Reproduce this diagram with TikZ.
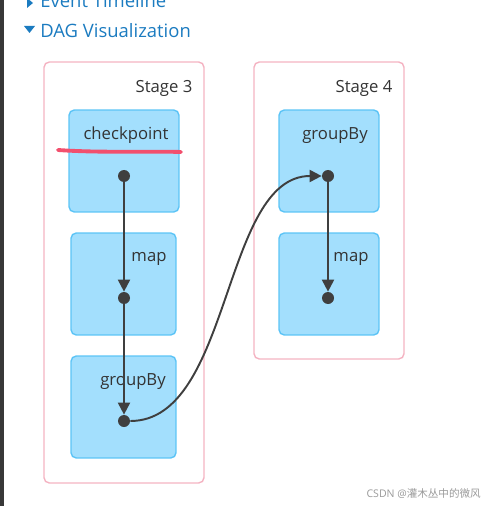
\documentclass[tikz,border=0pt]{standalone}
\usepackage{fontspec}
\setmainfont{Open Sans}
\newfontfamily\cjkfont{Noto Sans CJK SC}
\usetikzlibrary{arrows.meta}

\definecolor{linkblue}{HTML}{1B7BC0}
\definecolor{stagepink}{HTML}{F4B3C2}
\definecolor{opfill}{HTML}{A3DFFD}
\definecolor{opline}{HTML}{5CC4F6}
\definecolor{edgegray}{HTML}{3F3F3F}
\definecolor{markred}{HTML}{F2506E}

\tikzstyle{stagebox}=[draw=stagepink, line width=0.8pt, rounded corners=3pt, inner sep=0pt]
\tikzstyle{opbox}=[draw=opline, fill=opfill, line width=0.8pt, rounded corners=3pt, inner sep=0pt, minimum height=2.04cm]
\tikzstyle{oplabel}=[font=\fontsize{9.5}{11}\selectfont, text=black!80, inner sep=0pt]
\tikzstyle{opdot}=[circle, fill=edgegray, inner sep=0pt, minimum size=0.24cm]
\tikzstyle{dagedge}=[draw=edgegray, line width=1.1pt, -{Triangle[length=0.24cm,width=0.24cm]}]

\begin{document}
\begin{tikzpicture}[x=0.02cm, y=-0.02cm]
  \useasboundingbox (0,0) rectangle (485,506);
  % page side bar
  \fill[black!78] (0,0) rectangle (4,506);
  % section headers
  \fill[linkblue] (27,-2) -- (33,3) -- (27,8) -- cycle;
  \node[anchor=west, text=linkblue, font=\fontsize{10.5}{12}\selectfont, inner sep=0pt] (timeline) at (40,1) {Event Timeline};
  \fill[linkblue] (24,26) -- (35,26) -- (29.5,33) -- cycle;
  \node[anchor=west, text=linkblue, font=\fontsize{10.5}{12}\selectfont, inner sep=0pt] (dagviz) at (40,31) {DAG Visualization};

  % stages
  \node[stagebox, minimum width=3.2cm, minimum height=8.42cm] (stage3) at (124,272.5) {};
  \node[stagebox, minimum width=3.0cm, minimum height=5.94cm] (stage4) at (329,210.5) {};
  \node[oplabel] (stage3lbl) at (164,88) {Stage 3};
  \node[oplabel] (stage4lbl) at (364,88) {Stage 4};

  % operators
  \node[opbox, minimum width=2.2cm] (checkpoint) at (124,161) {};
  \node[opbox, minimum width=2.1cm] (map3) at (123.5,284) {};
  \node[opbox, minimum width=2.1cm] (groupby3) at (123.5,407) {};
  \node[opbox, minimum width=2.0cm] (groupby4) at (329,161) {};
  \node[opbox, minimum width=2.0cm] (map4) at (329,284) {};

  \node[oplabel] (checkpointlbl) at (126,135) {checkpoint};
  \node[oplabel] (map3lbl) at (149,259) {map};
  \node[oplabel] (groupby3lbl) at (133,382) {groupBy};
  \node[oplabel] (groupby4lbl) at (335,136) {groupBy};
  \node[oplabel] (map4lbl) at (351,259) {map};

  % red mark under checkpoint
  \draw[markred, line width=2.2pt, line cap=round] (58,150) .. controls (100,153) and (150,151) .. (181,152);

  % dots
  \node[opdot] (d1) at (124,176) {};
  \node[opdot] (d2) at (124,298) {};
  \node[opdot] (d3) at (124,421) {};
  \node[opdot] (d4) at (328,176) {};
  \node[opdot] (d5) at (328,298) {};

  % edges
  \draw[dagedge] (d1) -- (d2);
  \draw[dagedge] (d2) -- (d3);
  \draw[dagedge] (d3.east) .. controls (232,421) and (222,176) .. (d4.west);
  \draw[dagedge] (d4) -- (d5);

  % watermark
  \node[anchor=east, text=black!40, font=\fontsize{6}{7}\selectfont, inner sep=0pt] (mark) at (481,494) {CSDN @{\cjkfont 灌木丛中的微风}};
\end{tikzpicture}
\end{document}
